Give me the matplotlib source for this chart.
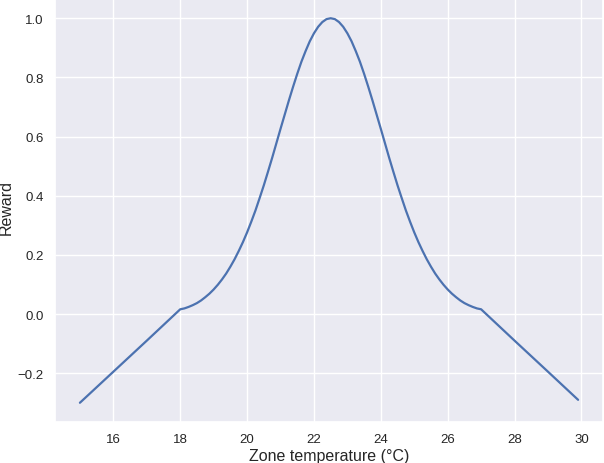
import matplotlib
matplotlib.use("Agg")
import matplotlib.pyplot as plt
import seaborn as sns

# zone temperature (°C) and reward
temp = [15.0, 16.0, 17.0,
        18.0, 18.125, 18.25, 18.375, 18.5, 18.625, 18.75, 18.875,
        19.0, 19.125, 19.25, 19.375, 19.5, 19.625, 19.75, 19.875,
        20.0, 20.125, 20.25, 20.375, 20.5, 20.625, 20.75, 20.875,
        21.0, 21.125, 21.25, 21.375, 21.5, 21.625, 21.75, 21.875,
        22.0, 22.125, 22.25, 22.375, 22.5, 22.625, 22.75, 22.875,
        23.0, 23.125, 23.25, 23.375, 23.5, 23.625, 23.75, 23.875,
        24.0, 24.125, 24.25, 24.375, 24.5, 24.625, 24.75, 24.875,
        25.0, 25.125, 25.25, 25.375, 25.5, 25.625, 25.75, 25.875,
        26.0, 26.125, 26.25, 26.375, 26.5, 26.625, 26.75, 26.875,
        27.0, 28.0, 29.0, 29.9]
reward = [-0.300, -0.195, -0.090,
          0.016, 0.019, 0.024, 0.030, 0.037, 0.046, 0.057, 0.069,
          0.083, 0.099, 0.117, 0.137, 0.160, 0.185, 0.213, 0.243,
          0.276, 0.312, 0.350, 0.392, 0.435, 0.481, 0.528, 0.577,
          0.626, 0.674, 0.722, 0.768, 0.812, 0.853, 0.889, 0.922,
          0.949, 0.971, 0.987, 0.997, 1.000, 0.997, 0.987, 0.971,
          0.949, 0.922, 0.889, 0.853, 0.812, 0.768, 0.722, 0.674,
          0.626, 0.577, 0.528, 0.481, 0.435, 0.392, 0.350, 0.312,
          0.276, 0.243, 0.213, 0.185, 0.160, 0.137, 0.117, 0.099,
          0.083, 0.069, 0.057, 0.046, 0.037, 0.030, 0.024, 0.019,
          0.016, -0.090, -0.195, -0.290]

sns.set_theme(style="darkgrid")
plt.rcParams["font.family"] = ["Liberation Sans", "DejaVu Sans"]

fig = plt.figure(figsize=(6.04, 4.64), dpi=100)
ax = fig.add_axes([55 / 604, 1 - 423 / 464, 548 / 604, 423 / 464])
ax.plot(temp, reward, color="#4c72b0", lw=1.6)
ax.set_xticks([16, 18, 20, 22, 24, 26, 28, 30])
ax.set_yticks([-0.2, 0.0, 0.2, 0.4, 0.6, 0.8, 1.0])
ax.tick_params(labelsize=9.5, length=0, pad=8)
ax.set_xlabel("Zone temperature (°C)", fontsize=11.5, labelpad=2)
ax.set_ylabel("Reward", fontsize=11.5)
ax.yaxis.set_label_coords(-0.075, 0.51)
fig.savefig("out.png", dpi=100)
